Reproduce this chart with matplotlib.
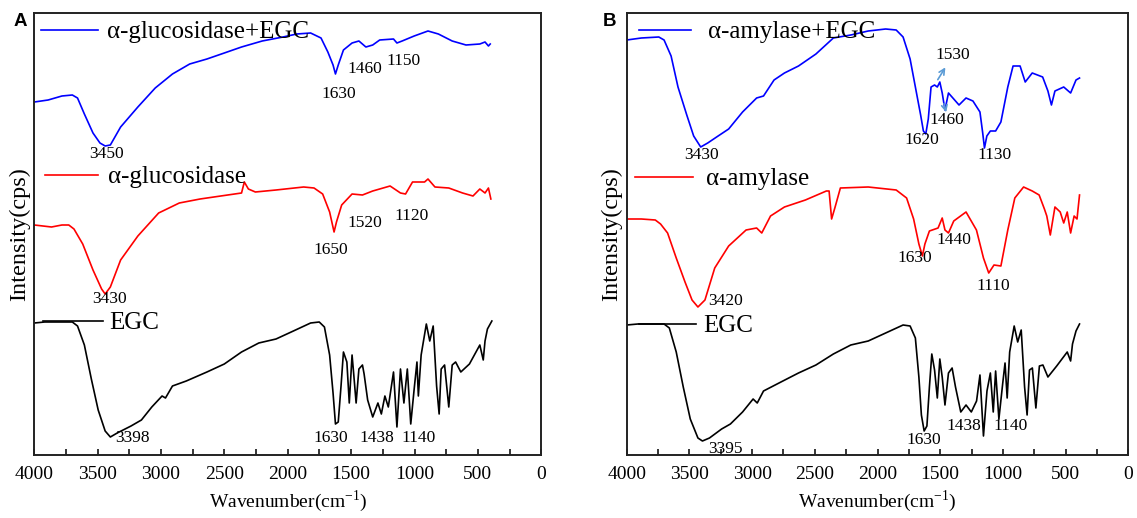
import numpy as np
import matplotlib
matplotlib.use('Agg')
import matplotlib.pyplot as plt

plt.rcParams['font.family'] = ['Liberation Serif', 'DejaVu Serif']
plt.rcParams['mathtext.fontset'] = 'custom'
plt.rcParams['mathtext.rm'] = 'Liberation Serif'

###################################
# panel A : alpha-glucosidase
###################################
wnA_blue = [4000, 3891, 3782, 3700, 3659, 3605, 3537, 3482, 3441, 3400, 3319, 3183, 3046, 2910,
            2774, 2638, 2501, 2365, 2202, 2038, 1929, 1820, 1738, 1684, 1643, 1624, 1602, 1561,
            1493, 1439, 1384, 1330, 1275, 1166, 1139, 1098, 1003, 894, 812, 703, 594, 485, 444,
            417, 403]
intA_blue = [359, 361, 365, 366, 363, 347, 328, 318, 315, 316, 334, 354, 373, 387,
             397, 402, 408, 414, 420, 424, 427, 428, 423, 409, 396, 387, 396, 411,
             418, 420, 414, 416, 421, 422, 418, 420, 425, 430, 427, 420, 416, 417, 419,
             415, 417]

wnA_red = [4000, 3864, 3782, 3728, 3687, 3618, 3537, 3469, 3441, 3400, 3319, 3183, 3019, 2856,
           2692, 2529, 2365, 2343, 2311, 2256, 2093, 1875, 1793, 1725, 1670, 1635, 1616, 1575,
           1493, 1411, 1330, 1193, 1111, 1071, 1016, 921, 894, 839, 730, 621, 539, 485, 444,
           417, 398]
intA_red = [236, 234, 236, 236, 232, 217, 191, 172, 167, 174, 201, 225, 248, 258,
            262, 265, 268, 279, 272, 269, 271, 274, 273, 267, 249, 229, 239, 256,
            267, 266, 270, 275, 268, 267, 279, 279, 282, 274, 273, 268, 265, 272, 268,
            273, 262]

wnA_egc = [4000, 3918, 3700, 3659, 3605, 3550, 3496, 3441, 3400, 3346, 3237, 3155, 3073, 2992,
           2965, 2910, 2801, 2638, 2501, 2365, 2229, 2093, 1956, 1820, 1752, 1711, 1670, 1643,
           1624, 1602, 1580, 1561, 1534, 1515, 1493, 1480, 1461, 1439, 1411, 1398, 1370, 1330,
           1289, 1262, 1234, 1207, 1166, 1139, 1111, 1084, 1057, 1030, 1003, 981, 970, 948,
           907, 880, 853, 826, 806, 790, 763, 730, 703, 676, 635, 567, 485, 458, 444, 425, 390]
intA_egc = [138, 139, 139, 135, 116, 82, 51, 30, 24, 28, 35, 41, 54, 65,
            63, 75, 80, 89, 97, 109, 118, 122, 130, 138, 139, 134, 106, 68,
            37, 39, 75, 109, 99, 58, 106, 87, 58, 92, 96, 87, 61, 44,
            58, 47, 65, 54, 89, 34, 92, 58, 92, 37, 72, 99, 65, 106,
            137, 120, 135, 75, 47, 92, 96, 54, 96, 99, 89, 97, 116, 101, 120, 132, 140]

###################################
# panel B : alpha-amylase
###################################
wnB_blue = [4000, 3883, 3744, 3702, 3646, 3591, 3521, 3466, 3410, 3354, 3271, 3187, 3076, 2964,
            2909, 2825, 2742, 2630, 2491, 2352, 2213, 2074, 1935, 1851, 1796, 1740, 1698, 1656,
            1634, 1615, 1595, 1573, 1545, 1523, 1503, 1484, 1462, 1434, 1392, 1350, 1294, 1239,
            1183, 1161, 1147, 1128, 1100, 1058, 1016, 961, 919, 863, 822, 766, 683, 641, 613,
            585, 515, 460, 417, 389]
intB_blue = [421, 423, 424, 421, 405, 374, 346, 325, 314, 318, 325, 332, 349, 363,
             365, 381, 388, 395, 407, 423, 426, 430, 432, 431, 424, 402, 374, 346,
             330, 327, 342, 374, 376, 374, 379, 368, 351, 368, 362, 356, 363, 360,
             349, 328, 313, 325, 330, 330, 339, 374, 395, 395, 379, 388, 384, 370, 356,
             370, 374, 368, 381, 383]

wnB_red = [4000, 3883, 3772, 3730, 3674, 3605, 3535, 3479, 3432, 3376, 3298, 3187, 3048, 2964,
           2923, 2853, 2742, 2575, 2408, 2386, 2366, 2338, 2296, 2074, 1851, 1768, 1712, 1670,
           1642, 1622, 1586, 1517, 1484, 1462, 1434, 1392, 1294, 1211, 1155, 1113, 1071, 1016,
           961, 905, 835, 766, 711, 669, 650, 622, 585, 543, 515, 487, 460, 432, 409, 389]
intB_red = [242, 242, 241, 237, 228, 203, 179, 161, 154, 161, 193, 215, 231, 233,
            228, 245, 254, 261, 270, 270, 242, 254, 273, 274, 271, 263, 242, 217,
            205, 217, 230, 233, 243, 231, 228, 240, 249, 231, 203, 188, 196, 195,
            231, 263, 274, 270, 266, 252, 245, 226, 254, 249, 238, 249, 228, 245, 242, 266]

wnB_egc = [4000, 3911, 3702, 3660, 3605, 3549, 3493, 3432, 3396, 3340, 3243, 3173, 3076, 2992,
           2959, 2909, 2770, 2630, 2491, 2352, 2213, 2074, 1935, 1796, 1740, 1698, 1670, 1650,
           1628, 1606, 1586, 1567, 1545, 1523, 1503, 1484, 1462, 1434, 1405, 1378, 1336, 1294,
           1252, 1210, 1183, 1155, 1127, 1100, 1077, 1058, 1032, 1002, 983, 966, 946, 910,
           882, 854, 827, 807, 788, 765, 737, 709, 681, 641, 571, 487, 460, 445, 417, 389]
intB_egc = [136, 137, 137, 133, 109, 74, 42, 23, 20, 23, 32, 37, 49, 62,
            58, 70, 79, 88, 96, 107, 116, 120, 128, 136, 135, 123, 84, 46,
            30, 35, 74, 107, 91, 63, 102, 84, 56, 88, 93, 74, 49, 56,
            49, 60, 86, 25, 70, 88, 49, 90, 42, 77, 98, 63, 109, 135,
            119, 131, 74, 46, 91, 93, 53, 95, 96, 84, 95, 109, 100, 117, 130, 137]

names_A = ['α-glucosidase+EGC', 'α-glucosidase', 'EGC']
names_B = ['α-amylase+EGC', 'α-amylase', 'EGC']
colors = ['#0000ff', '#ff0000', 'black']

# peak labels (text, wavenumber position, intensity position)
peaks_A = [('3450', 3430, 307), ('1630', 1600, 367), ('1460', 1391, 392), ('1150', 1091, 400),
           ('3430', 3407, 162), ('1650', 1662, 211), ('1520', 1391, 238), ('1120', 1024, 245),
           ('3398', 3224, 23), ('1630', 1662, 23), ('1438', 1296, 23), ('1140', 969, 23)]
peaks_B = [('3430', 3407, 306), ('1620', 1646, 321), ('1460', 1446, 341), ('1530', 1396, 406),
           ('1130', 1067, 306),
           ('3420', 3215, 160), ('1630', 1702, 203), ('1440', 1390, 221), ('1110', 1075, 175),
           ('3395', 3212, 12), ('1630', 1634, 21), ('1438', 1313, 35), ('1140', 936, 35)]

# legend rows (line start, line end, text start, level)
leg_A = [(3947, 3497, 3426, 431), (3915, 3497, 3415, 286), (3931, 3458, 3407, 140)]
leg_B = [(3901, 3486, 3351, 431), (3934, 3471, 3367, 284), (3901, 3447, 3391, 137)]

fig = plt.figure(figsize=(11.37, 5.18), dpi=100)
axA = fig.add_axes([34.3/1137, 63/518, 507/1137, 442/518])
axB = fig.add_axes([626.7/1137, 63/518, 501.6/1137, 442/518])

def draw_panel(ax, curves, names, peaks, leg, letter, xl):
    for (wn, it), c in zip(curves, colors):
        ax.plot(wn, it, color=c, lw=1.2)
    for (x1, x2, xt, lv), nm, c in zip(leg, names, colors):
        ax.plot([x1, x2], [lv, lv], color=c, lw=1.2)
        ax.text(xt, lv - 2, nm, fontsize=18, ha='left', va='center')
    for t, x, y in peaks:
        ax.text(x, y, t, fontsize=12.5, ha='center', va='center')
    ax.set_xlim(4000, 0)
    ax.set_ylim(6, 448)
    ax.set_yticks([])
    ax.set_xticks(np.arange(4000, -1, -500))
    ax.set_xticks(np.arange(3750, 0, -500), minor=True)
    ax.tick_params(axis='x', which='both', direction='in', length=4.5, width=1.1,
                   labelsize=14, pad=8, top=False)
    for s in ax.spines.values():
        s.set_linewidth(1.4)
        s.set_color('#222222')
    ax.set_xlabel('Wavenumber(cm$^{-1}$)', fontsize=14, labelpad=4)
    ax.set_ylabel('Intensity(cps)', fontsize=17.5, labelpad=3)
    fig.text(xl, 1 - 22/518, letter, fontsize=13.5, fontweight='bold',
             family='Liberation Sans', ha='center', va='center')

draw_panel(axA, [(wnA_blue, intA_blue), (wnA_red, intA_red), (wnA_egc, intA_egc)],
           names_A, peaks_A, leg_A, 'A', 20/1137)
draw_panel(axB, [(wnB_blue, intB_blue), (wnB_red, intB_red), (wnB_egc, intB_egc)],
           names_B, peaks_B, leg_B, 'B', 610/1137)

# arrows to the 1530 / 1460 shoulders
axB.annotate('', xy=(1447, 396), xytext=(1531, 379),
             arrowprops=dict(arrowstyle='->', color='#5b9bd5', lw=1.2))
axB.annotate('', xy=(1447, 346), xytext=(1475, 360),
             arrowprops=dict(arrowstyle='->', color='#5b9bd5', lw=1.2))

fig.savefig('out.png', dpi=100)
